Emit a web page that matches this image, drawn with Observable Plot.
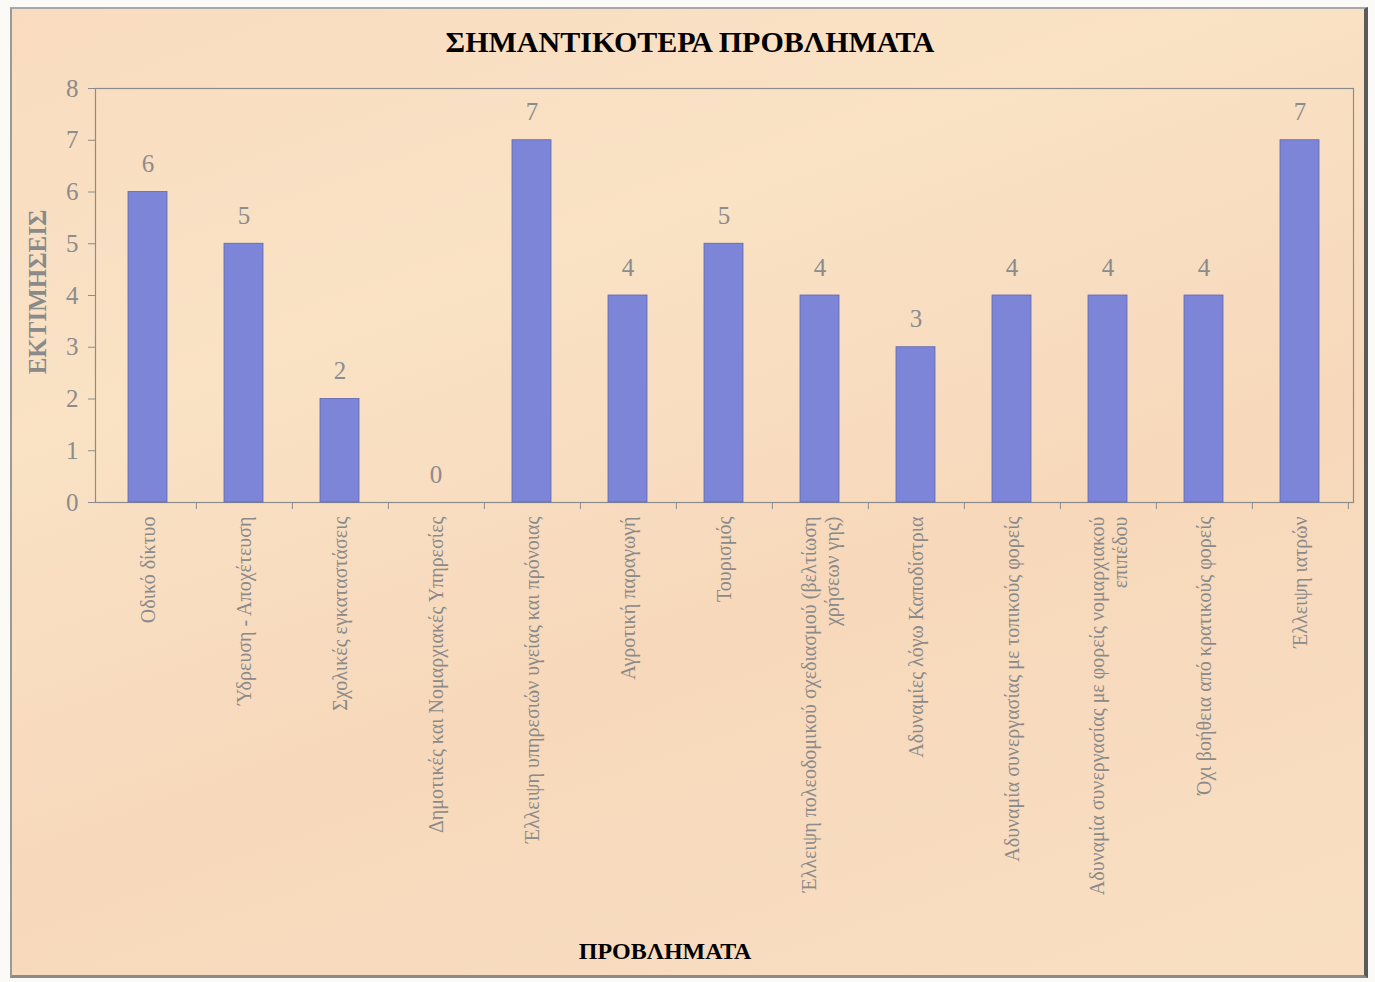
<!DOCTYPE html>
<html>
<head>
<meta charset="utf-8">
<script src="https://cdn.jsdelivr.net/npm/d3@7"></script>
<script src="https://cdn.jsdelivr.net/npm/@observablehq/plot@0.6"></script>
<style>
  html, body { margin: 0; padding: 0; background: #fbfaf7; }
  body { width: 1375px; height: 982px; position: relative; overflow: hidden; }
  #box {
    position: absolute; left: 10px; top: 7px; width: 1352px; height: 966px;
    background: linear-gradient(160deg, #f9dcc0 0%, #fae2c5 30%, #f7d8bb 60%, #f9dfc2 100%);
    border-left: 2px solid #9a9a9a; border-top: 2px solid #a8a8a8;
    border-right: 4px solid #5a5a5a; border-bottom: 3px solid #8a8a8a;
  }
  #title {
    position: absolute; left: 0; width: 1380px; top: 25px; text-align: center;
    font-family: "Liberation Serif", serif; font-weight: bold; font-size: 30px; color: #000;
  }
  #xlabel {
    position: absolute; left: 0; width: 1330px; top: 938px; text-align: center;
    font-family: "Liberation Serif", serif; font-weight: bold; font-size: 24px; color: #000;
  }
  #ylabel {
    position: absolute; left: 38px; top: 292px; transform: translate(-50%, -50%) rotate(-90deg);
    font-family: "Liberation Serif", serif; font-weight: bold; font-size: 25px; color: #8a8a8a;
    white-space: nowrap;
  }
  #chart { position: absolute; left: 0; top: 0; }
  #chart svg { background: transparent; overflow: visible; }
</style>
</head>
<body>
<div id="box"></div>
<div id="title">ΣΗΜΑΝΤΙΚΟΤΕΡΑ ΠΡΟΒΛΗΜΑΤΑ</div>
<div id="ylabel">ΕΚΤΙΜΗΣΕΙΣ</div>
<div id="chart"></div>
<div id="xlabel">ΠΡΟΒΛΗΜΑΤΑ</div>
<script>
const categories = [
  "Οδικό δίκτυο",
  "Ύδρευση - Αποχέτευση",
  "Σχολικές εγκαταστάσεις",
  "Δημοτικές και Νομαρχιακές Υπηρεσίες",
  "Έλλειψη υπηρεσιών υγείας και πρόνοιας",
  "Αγροτική παραγωγή",
  "Τουρισμός",
  "Έλλειψη πολεοδομικού σχεδιασμού (βελτίωση\nχρήσεων γης)",
  "Αδυναμίες λόγω Καποδίστρια",
  "Αδυναμία συνεργασίας με τοπικούς φορείς",
  "Αδυναμία συνεργασίας με φορείς νομαρχιακού\nεπιπέδου",
  "Όχι βοήθεια από κρατικούς φορείς",
  "Έλλειψη ιατρών"
];
const values = [6, 5, 2, 0, 7, 4, 5, 4, 3, 4, 4, 4, 7];
const yTicks = [0, 1, 2, 3, 4, 5, 6, 7, 8];

const rows = categories.map((c, i) => ({cat: c, value: values[i]}));

const W = 1375, H = 920;
const mL = 95, mR = 22, mT = 88, mB = 418;
const step = (W - mL - mR) / categories.length;

const chart = Plot.plot({
  width: W,
  height: H,
  marginLeft: mL,
  marginRight: mR,
  marginTop: mT,
  marginBottom: mB,
  style: {fontFamily: "Liberation Serif, serif", fontSize: "25px", color: "#8c8c8c", background: "transparent"},
  x: {domain: categories, paddingInner: 0.59, paddingOuter: 0.295, axis: null},
  y: {domain: [0, 8], axis: null},
  marks: [
    Plot.frame({stroke: "#8c8c8c", strokeWidth: 1.2}),
    Plot.axisY({ticks: yTicks, tickSize: 7, tickPadding: 10, label: null, stroke: "#8c8c8c", fill: "#8c8c8c", fontSize: 25}),
    Plot.axisX({tickSize: 7, tickFormat: () => "", label: null, dx: step / 2, stroke: "#8c8c8c"}),
    Plot.barY(rows.filter(d => d.value > 0), {x: "cat", y: "value", fill: "#7d85d8", stroke: "#5f66b0", strokeWidth: 0.8}),
    Plot.text(rows, {x: "cat", y: "value", text: d => String(d.value), dy: -28, fontSize: 25, fill: "#8c8c8c"}),
    Plot.text(rows, {x: "cat", frameAnchor: "bottom", text: "cat", rotate: -90, textAnchor: "end", lineAnchor: "middle", dy: 14, fontSize: 20, fill: "#8a8a8a", lineHeight: 1.15})
  ]
});
document.getElementById("chart").appendChild(chart);
</script>
</body>
</html>
